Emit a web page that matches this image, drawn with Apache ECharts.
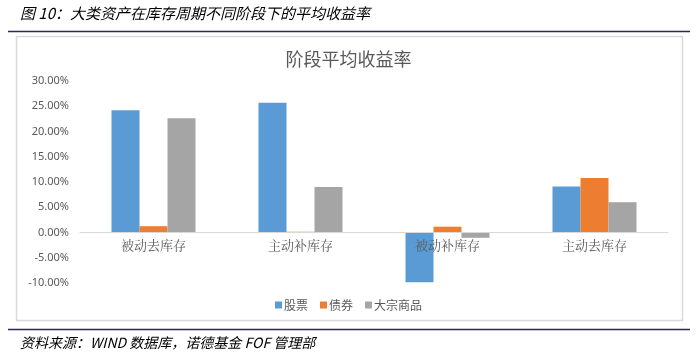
<!DOCTYPE html>
<html>
<head>
<meta charset="utf-8">
<script src="https://cdn.jsdelivr.net/npm/echarts@6/dist/echarts.min.js"></script>
<style>
html,body{margin:0;padding:0;background:#fff;}
#c{width:697px;height:360px;}
</style>
</head>
<body>
<div id="c"></div>
<script>
const categories = ['被动去库存', '主动补库存', '被动补库存', '主动去库存'];
const stocks = [24.2, 25.7, -9.85, 9.1];
const bonds = [1.25, 0.15, 1.15, 10.8];
const commodities = [22.6, 9.0, -1.05, 6.0];
const seriesNames = ['股票', '债券', '大宗商品'];
const colors = ['#5b9bd5', '#ed7d31', '#a5a5a5'];

const chart = echarts.init(document.getElementById('c'), null, {renderer: 'canvas'});
const mk = (name, data, i) => ({
  name: name, type: 'bar', data: data, barWidth: 28, barGap: '0%',
  itemStyle: {color: colors[i]}, z: 2
});
chart.setOption({
  animation: false,
  backgroundColor: '#fff',
  title: [{
    text: '阶段平均收益率', left: 'center', top: 45,
    textStyle: {fontFamily: 'Noto Sans CJK SC', fontSize: 18, fontWeight: 'normal', color: '#595959'}
  }],
  graphic: [
    {type: 'text', left: 20, top: 6, style: {text: '图 10：大类资产在库存周期不同阶段下的平均收益率', font: 'italic 15px "Noto Sans CJK SC"', fill: '#000'}},
    {type: 'line', shape: {x1: 8, y1: 31.5, x2: 690, y2: 31.5}, style: {stroke: '#27275f', lineWidth: 1.5}},
    {type: 'rect', z: -10, shape: {x: 16.5, y: 36.5, width: 666, height: 284}, style: {fill: '#fff', stroke: '#d9d9d9', lineWidth: 1.5}},
    {type: 'line', shape: {x1: 8, y1: 329.5, x2: 690, y2: 329.5}, style: {stroke: '#27275f', lineWidth: 1.5}},
    {type: 'text', left: 20, top: 336, style: {text: '资料来源：WIND 数据库，诺德基金 FOF 管理部', font: 'italic 14px "Noto Sans CJK SC"', fill: '#000'}}
  ],
  legend: {
    data: seriesNames, top: 294, left: 'center', itemWidth: 7, itemHeight: 7, itemGap: 12,
    icon: 'rect',
    textStyle: {fontFamily: 'Noto Sans CJK SC', fontSize: 12, color: '#595959', padding: [0, 0, 0, -3]}
  },
  grid: {left: 80, right: 29, top: 81, bottom: 77},
  xAxis: {
    type: 'category', data: categories, offset: -50.5, z: 10,
    axisLine: {onZero: false, lineStyle: {color: '#d9d9d9'}},
    axisTick: {show: false},
    axisLabel: {fontFamily: 'Noto Serif CJK SC, Noto Sans CJK SC', fontSize: 13, color: '#595959', margin: 6}
  },
  yAxis: {
    type: 'value', min: -10, max: 30, interval: 5,
    axisLine: {show: false}, axisTick: {show: false},
    splitLine: {show: false},
    axisLabel: {fontFamily: 'Noto Sans', fontSize: 11, color: '#595959', margin: 11,
      formatter: v => v.toFixed(2) + '%'}
  },
  series: [mk(seriesNames[0], stocks, 0), mk(seriesNames[1], bonds, 1), mk(seriesNames[2], commodities, 2)]
});
</script>
</body>
</html>
